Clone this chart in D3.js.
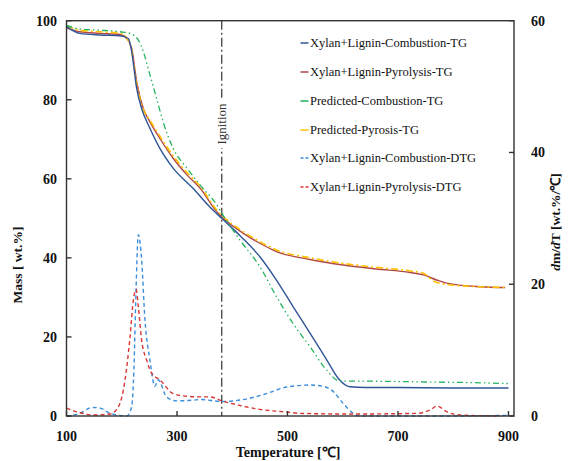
<!DOCTYPE html>
<html><head><meta charset="utf-8">
<script src="https://cdn.jsdelivr.net/npm/d3@7"></script>
<style>body{margin:0;background:#fff}svg{display:block;font-family:"Liberation Serif","Times New Roman",serif}</style>
</head><body><svg id="c" width="570" height="461"></svg>
<script>
const xTicks=[100,300,500,700,900];
const yTicks=[0,20,40,60,80,100];
const y2Ticks=[0,20,40,60];
const ignitionT=381;
const seriesNames=["Xylan+Lignin-Combustion-TG","Xylan+Lignin-Pyrolysis-TG","Predicted-Combustion-TG","Predicted-Pyrosis-TG","Xylan+Lignin-Combustion-DTG","Xylan+Lignin-Pyrolysis-DTG"];
const combTG=[[100,98.5],[124,96.8],[161,96.4],[197,96.2],[212,95.5],[218,92.2],[227,82.9],[236,77.8],[251,72.8],[269,67.7],[293,62.7],[329,57.6],[360,52.8],[381,50.0],[415,45.5],[450,40.3],[480,34.4],[510,27.7],[541,20.9],[571,14.2],[592,9.5],[613,7.4],[640,7.2],[700,7.2],[800,7.1],[900,7.1]];
const pyroTG=[[100,98.2],[124,97.2],[161,96.8],[197,96.5],[209,95.5],[218,93.0],[227,84.6],[239,77.8],[251,74.4],[269,70.2],[293,65.2],[318,61.0],[342,57.6],[372,51.7],[381,50.4],[420,46.2],[450,43.7],[480,41.6],[541,39.6],[601,38.2],[661,37.2],[722,36.3],[746,35.7],[770,34.4],[788,33.6],[848,32.7],[894,32.5]];
const predCombTG=[[100,98.8],[124,97.9],[161,97.6],[197,97.2],[215,96.8],[230,95.1],[239,92.2],[251,86.3],[263,80.4],[275,74.4],[293,67.7],[318,62.7],[342,58.4],[372,53.4],[381,51.3],[414,44.5],[450,37.8],[480,30.2],[510,23.4],[541,17.5],[571,11.6],[595,8.8],[650,8.8],[750,8.6],[850,8.4],[900,8.2]];
const predPyroTG=[[100,98.7],[124,97.6],[161,97.2],[197,96.8],[209,95.6],[218,92.5],[227,84.0],[239,77.6],[251,74.8],[269,70.8],[293,65.8],[318,61.6],[342,58.1],[372,52.1],[381,50.8],[420,46.6],[450,44.1],[480,42.0],[541,40.0],[601,38.6],[661,37.6],[722,36.7],[746,36.1],[766,34.0],[788,33.3],[848,32.7],[894,32.5]];
const combDTG=[[100,0],[124,0.4],[146,1.3],[161,1.2],[179,0.4],[209,0],[218,1.4],[222,7],[226,19.6],[230,27.5],[236,23.7],[242,14.6],[251,8.5],[260,4.5],[266,5.5],[281,2.9],[299,2.3],[329,2.4],[342,2.5],[381,2.2],[432,2.7],[462,3.4],[499,4.4],[541,4.7],[565,4.5],[583,3.7],[601,1.9],[619,0.4],[631,0],[700,0],[800,0],[900,0.1]];
const pyroDTG=[[100,1.2],[124,0.5],[148,0.15],[179,0.3],[194,1.4],[206,5.5],[215,12],[221,17.6],[226,19.2],[230,16.6],[236,11.5],[245,8.5],[254,6.5],[269,5.5],[293,3.4],[318,3.0],[342,2.9],[360,2.9],[381,2.3],[414,1.6],[450,1.0],[499,0.6],[523,0.4],[613,0.3],[734,0.4],[758,0.9],[771,1.5],[788,0.65],[812,0.15],[885,0]];

const svg=d3.select("#c");
const L=66.5,R=514,T=20.7,B=416;
const x=d3.scaleLinear().domain([100,910]).range([L,R]);
const y=d3.scaleLinear().domain([0,100]).range([B,T]);
const y2=d3.scaleLinear().domain([0,60]).range([B,T]);

const styles=[
 {data:combTG,sc:y,color:"#2F5597",dash:null,w:1.4},
 {data:pyroTG,sc:y,color:"#B04848",dash:null,w:1.4},
 {data:predCombTG,sc:y,color:"#22B35E",dash:"6,3,1.5,3,1.5,3",w:1.3},
 {data:predPyroTG,sc:y,color:"#FFC000",dash:"7,3,2,3",w:1.6},
 {data:combDTG,sc:y2,color:"#3B8EDB",dash:"4,3",w:1.4},
 {data:pyroDTG,sc:y2,color:"#D93535",dash:"4,3",w:1.4}
];

// ignition line
svg.append("line").attr("x1",x(ignitionT)).attr("x2",x(ignitionT)).attr("y1",T).attr("y2",B)
 .attr("stroke","#333").attr("stroke-width",1.2).attr("stroke-dasharray","9,3,2,3");
const ig=svg.append("g").attr("transform",`translate(${x(ignitionT)},124) rotate(-90)`);
ig.append("rect").attr("x",-24).attr("y",-8).attr("width",48).attr("height",16).attr("fill","#fff");
ig.append("text").attr("text-anchor","middle").attr("dy","0.35em").attr("font-size",13).attr("fill","#333").text("Ignition");

const draw=[1,3,0,2,4,5];
draw.forEach(i=>{
 const s=styles[i];
 const line=d3.line().x(d=>x(d[0])).y(d=>s.sc(d[1])).curve(d3.curveMonotoneX);
 svg.append("path").attr("d",line(s.data)).attr("fill","none").attr("stroke",s.color)
  .attr("stroke-width",s.w).attr("stroke-dasharray",s.dash);
});

// axes
const ax=svg.append("g").attr("stroke","#333").attr("stroke-width",1.4);
ax.append("rect").attr("x",L).attr("y",T).attr("width",R-L).attr("height",B-T).attr("fill","none");
xTicks.forEach(t=>ax.append("line").attr("x1",x(t)).attr("x2",x(t)).attr("y1",B).attr("y2",B-5));
yTicks.forEach(t=>ax.append("line").attr("x1",L).attr("x2",L+5).attr("y1",y(t)).attr("y2",y(t)));
y2Ticks.forEach(t=>ax.append("line").attr("x1",R).attr("x2",R-5).attr("y1",y2(t)).attr("y2",y2(t)));

const tf={"font-size":14,"font-weight":"bold","fill":"#111"};
function txt(g,a){const t=g.append("text");Object.entries(Object.assign({},tf,a)).forEach(([k,v])=>t.attr(k,v));return t;}
xTicks.forEach(t=>txt(svg,{x:x(t),y:441,"text-anchor":"middle"}).text(t));
yTicks.forEach(t=>txt(svg,{x:57,y:y(t),dy:"0.35em","text-anchor":"end"}).text(t));
y2Ticks.forEach(t=>txt(svg,{x:531,y:y2(t),dy:"0.35em","text-anchor":"start"}).text(t));

txt(svg,{x:288,y:457,"text-anchor":"middle"}).text("Temperature [℃]");
txt(svg,{transform:"translate(22,265) rotate(-90)","text-anchor":"middle","font-size":13.5}).text("Mass [ wt.%]");
const rt=txt(svg,{transform:"translate(560,222) rotate(-90)","text-anchor":"middle","font-size":13.5});
rt.append("tspan").attr("font-style","italic").text("d");
rt.append("tspan").text("m/");
rt.append("tspan").attr("font-style","italic").text("d");
rt.append("tspan").text("T [wt.%/℃]");

// legend
const ly=[43,72,101,130,158,187];
seriesNames.forEach((n,i)=>{
 const s=styles[i];
 svg.append("line").attr("x1",300.5).attr("x2",308.5).attr("y1",ly[i]).attr("y2",ly[i])
  .attr("stroke",s.color).attr("stroke-width",1.5).attr("stroke-dasharray",i>=4?"3,2":null);
 svg.append("text").attr("x",310).attr("y",ly[i]).attr("dy","0.35em").attr("font-size",12.5).attr("fill","#111").text(n);
});
</script></body></html>
